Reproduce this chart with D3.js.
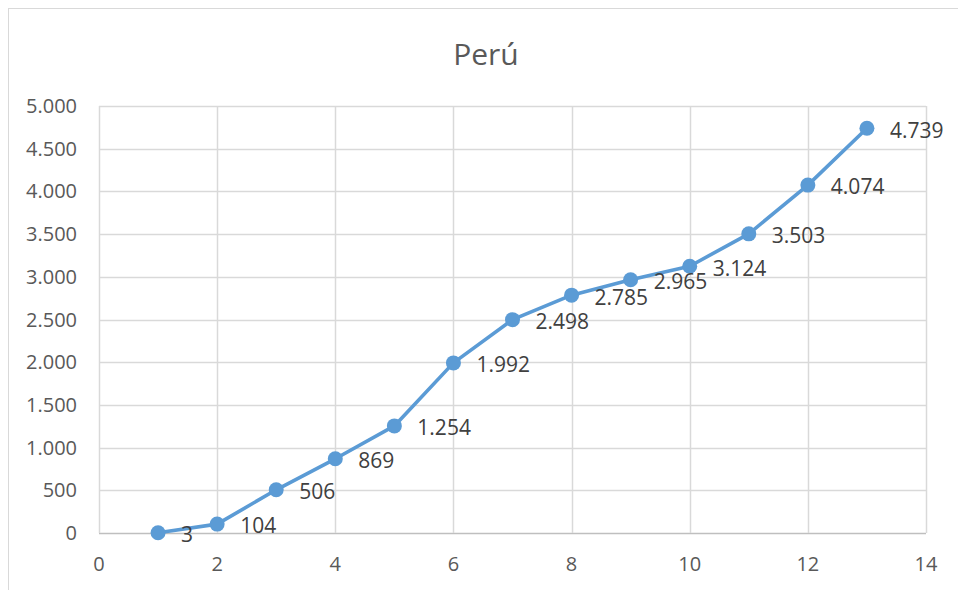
<!DOCTYPE html>
<html>
<head>
<meta charset="utf-8">
<script src="https://cdn.jsdelivr.net/npm/d3@7"></script>
<style>
  body { margin: 0; background: #fff; }
  text { font-family: "Open Sans", "Noto Sans", sans-serif; }
</style>
</head>
<body>
<div id="chart"></div>
<script>
const xValues = [1, 2, 3, 4, 5, 6, 7, 8, 9, 10, 11, 12, 13];
const yValues = [3, 104, 506, 869, 1254, 1992, 2498, 2785, 2965, 3124, 3503, 4074, 4739];
const xTicks = [0, 2, 4, 6, 8, 10, 12, 14];
const yTicks = [0, 500, 1000, 1500, 2000, 2500, 3000, 3500, 4000, 4500, 5000];
const title = "Perú";

const width = 958, height = 590;
const margin = {left: 99, right: 32, top: 106, bottom: 57};

// thousands with a dot, like the original
const fmt = v => d3.format(",")(v).replace(/,/g, ".");

const svg = d3.select("#chart").append("svg")
    .attr("width", width)
    .attr("height", height);

// chart frame
svg.append("rect")
    .attr("x", 8.5).attr("y", 8.5)
    .attr("width", width + 20).attr("height", height + 20)
    .attr("fill", "none")
    .attr("stroke", "#d9d9d9");

let x = d3.scaleLinear()
    .domain([0, 14])
    .range([margin.left, width - margin.right]);
let y = d3.scaleLinear()
    .domain([0, 5000])
    .range([height - margin.bottom, margin.top]);

// gridlines
svg.append("g").selectAll("line.h")
    .data(yTicks)
    .enter().append("line")
    .attr("x1", x(0)).attr("x2", x(14))
    .attr("y1", d => Math.round(y(d)) + 0.5)
    .attr("y2", d => Math.round(y(d)) + 0.5)
    .attr("stroke", d => d === 0 ? "#bfbfbf" : "#d9d9d9")
    .attr("stroke-width", 1.5);

svg.append("g").selectAll("line.v")
    .data(xTicks)
    .enter().append("line")
    .attr("y1", y(0)).attr("y2", y(5000))
    .attr("x1", d => Math.round(x(d)) + 0.5)
    .attr("x2", d => Math.round(x(d)) + 0.5)
    .attr("stroke", "#d9d9d9")
    .attr("stroke-width", 1.5);

// axis labels
svg.append("g").selectAll("text")
    .data(yTicks)
    .enter().append("text")
    .attr("x", 77)
    .attr("y", d => y(d))
    .attr("dy", "0.35em")
    .attr("text-anchor", "end")
    .attr("fill", "#595959")
    .style("font-size", "20px")
    .text(fmt);

svg.append("g").selectAll("text")
    .data(xTicks)
    .enter().append("text")
    .attr("x", d => x(d))
    .attr("y", 564)
    .attr("dy", "0.35em")
    .attr("text-anchor", "middle")
    .attr("fill", "#595959")
    .style("font-size", "20px")
    .text(d => d);

// title
svg.append("text")
    .attr("x", 486)
    .attr("y", 65)
    .attr("text-anchor", "middle")
    .attr("fill", "#595959")
    .style("font-size", "30px")
    .text(title);

const data = xValues.map((v, i) => ({x: v, y: yValues[i]}));

// line
svg.append("path")
    .datum(data)
    .attr("fill", "none")
    .attr("stroke", "#5b9bd5")
    .attr("stroke-width", 3.6)
    .attr("stroke-linejoin", "round")
    .attr("d", d3.line().x(d => x(d.x)).y(d => y(d.y)));

// markers
svg.append("g").selectAll("circle")
    .data(data)
    .enter().append("circle")
    .attr("cx", d => x(d.x))
    .attr("cy", d => y(d.y))
    .attr("r", 7.5)
    .attr("fill", "#5b9bd5");

// data labels
svg.append("g").selectAll("text")
    .data(data)
    .enter().append("text")
    .attr("x", d => x(d.x) + 23)
    .attr("y", d => y(d.y) + 2)
    .attr("dy", "0.35em")
    .attr("fill", "#404040")
    .style("font-size", "21px")
    .text(d => fmt(d.y));
</script>
</body>
</html>
